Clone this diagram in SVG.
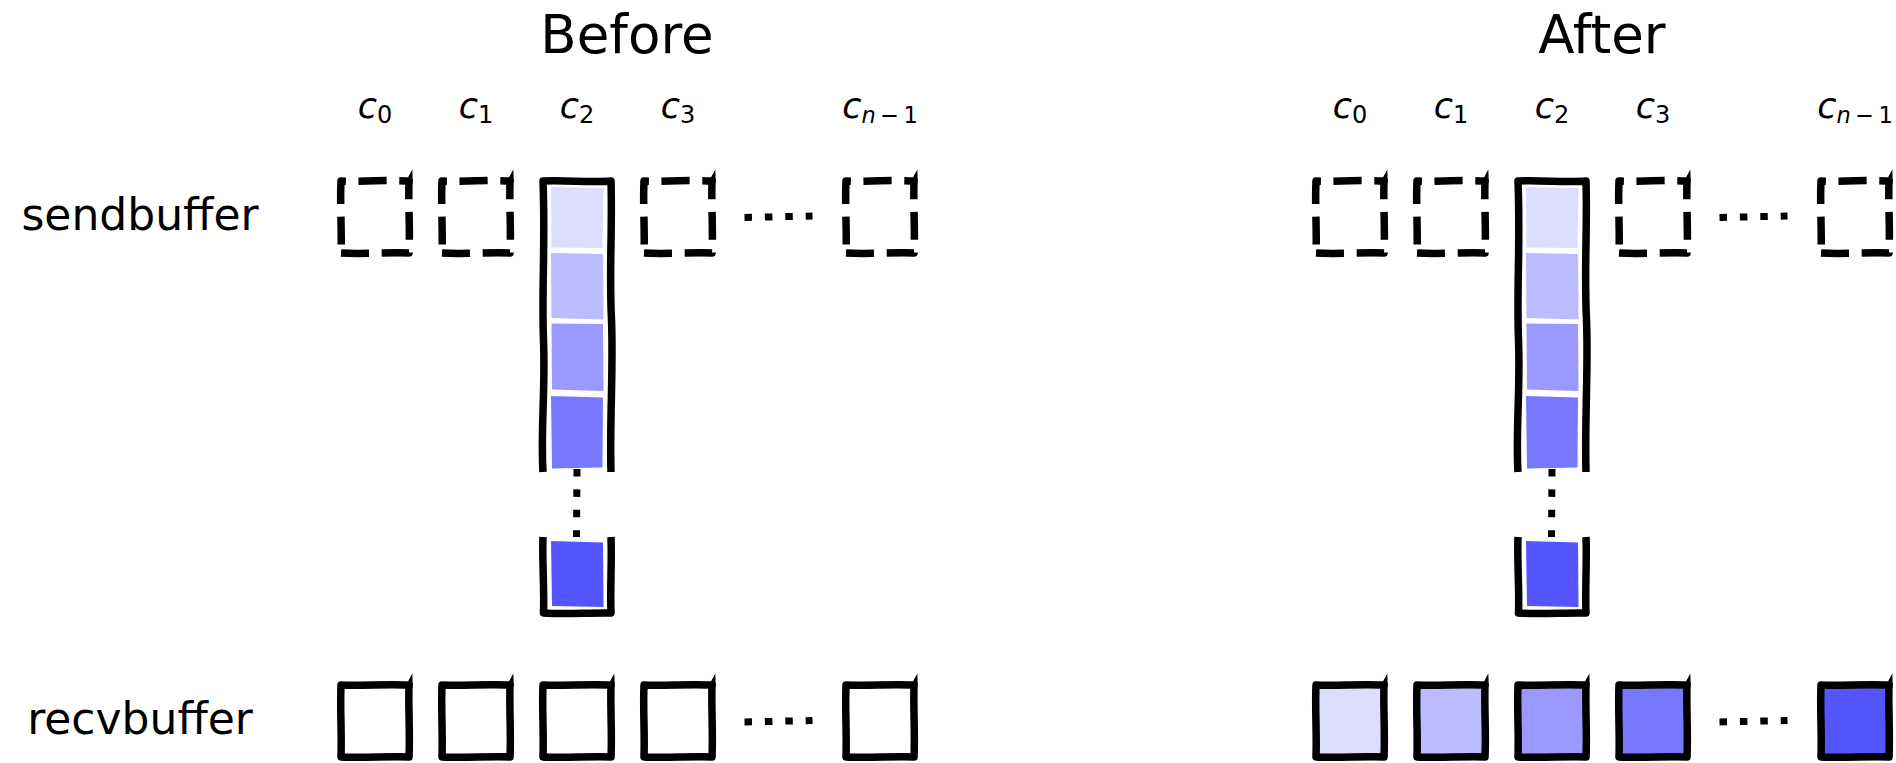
<svg xmlns="http://www.w3.org/2000/svg" xmlns:xlink="http://www.w3.org/1999/xlink" width="1896" height="763" viewBox="0 0 1896 763">
  <style>
    text { font-family: "DejaVu Sans", "Liberation Sans", sans-serif; fill: #000; }
    .title { font-size: 53px; text-anchor: middle; }
    .row { font-size: 44px; text-anchor: middle; }
    .lbl { font-size: 35px; text-anchor: middle; }
    .it { font-style: italic; }
    .sub { font-size: 24px; }
    .sub2 { font-size: 22.5px; }
    .solid { fill: none; stroke: #000; stroke-width: 7.5; stroke-linejoin: round; stroke-linecap: butt; }
    .dashed { fill: none; stroke: #000; stroke-width: 7.5; stroke-linejoin: round; stroke-linecap: butt; stroke-dasharray: 28 12.6; }
    .dots { fill: none; stroke: #000; stroke-width: 7; stroke-dasharray: 7.5 12.9; }
    .tip { fill: #000; }
    .c1 { fill: #ddddff; }
    .c2 { fill: #bbbbff; }
    .c3 { fill: #9999ff; }
    .c4 { fill: #7777ff; }
    .c5 { fill: #5555ff; }
  </style>
  <defs>
    <!-- hand-drawn square cell, 68 x 72, starting at its lower-left corner -->
    <path id="cell" d="M0,72 C22,73.2 46,71.2 68,72 C69.2,48 67.2,24 68,0 C46,-1.3 22,0.9 0,0 C-1.1,24 0.9,48 0,72 Z"/>
    <!-- small overshoot at the upper-right corner of each sketched cell -->
    <path id="tip" d="M64.3,1.5 L71.8,1.5 L71.3,-11.5 Z"/>
  </defs>

  <rect x="0" y="0" width="1896" height="763" fill="#fff"/>

  <!-- ===================== Before ===================== -->
  <g id="panel-before">
    <text id="title-before" class="title" x="627" y="53">Before</text>

    <g id="rank-labels-before">
      <text class="lbl" x="375" y="118"><tspan class="it">c</tspan><tspan class="sub" dy="5">0</tspan></text>
      <text class="lbl" x="476" y="118"><tspan class="it">c</tspan><tspan class="sub" dy="5">1</tspan></text>
      <text class="lbl" x="577" y="118"><tspan class="it">c</tspan><tspan class="sub" dy="5">2</tspan></text>
      <text class="lbl" x="678" y="118"><tspan class="it">c</tspan><tspan class="sub" dy="5">3</tspan></text>
      <text class="lbl" x="880" y="118"><tspan class="it">c</tspan><tspan class="sub2 it" dy="5">n</tspan><tspan class="sub2" dx="4.5">−</tspan><tspan class="sub2" dx="4.5">1</tspan></text>
    </g>

    <text id="label-sendbuffer" class="row" x="140" y="230">sendbuffer</text>
    <text id="label-recvbuffer" class="row" x="140" y="734">recvbuffer</text>

    <!-- send buffers of the other ranks (empty, dashed) -->
    <g id="send-before-c0"><use xlink:href="#cell" class="dashed" transform="translate(341,181)"/><use xlink:href="#tip" class="tip" transform="translate(341,181)"/></g>
    <g id="send-before-c1"><use xlink:href="#cell" class="dashed" transform="translate(442,181)"/><use xlink:href="#tip" class="tip" transform="translate(442,181)"/></g>
    <g id="send-before-c3"><use xlink:href="#cell" class="dashed" transform="translate(644,181)"/><use xlink:href="#tip" class="tip" transform="translate(644,181)"/></g>
    <g id="send-before-cn1"><use xlink:href="#cell" class="dashed" transform="translate(846,181)"/><use xlink:href="#tip" class="tip" transform="translate(846,181)"/></g>
    <path id="send-before-ellipsis" class="dots" d="M744.5,217.5 L812.5,216"/>

    <!-- root send buffer: a column of n blocks -->
    <g id="send-before-c2">
      <path class="c1" d="M551,187 L603.5,188 L602.5,248 L551.5,247.5 Z"/>
      <path class="c2" d="M551,253 L603,254 L603.5,319.5 L551.5,318 Z"/>
      <path class="c3" d="M551.5,323.5 L603,324 L603.5,391 L552,389.5 Z"/>
      <path class="c4" d="M551,396 L603,397.5 L602.5,467.5 L552,468.5 Z"/>
      <path class="c5" d="M551,541 L603,542.5 L603.5,607 L552,606 Z"/>
      <path class="solid" d="M543,472 C540.5,430 545.5,390 543.5,340 C541.5,290 545.5,245 543,181 C566,180 589,182.5 611,181 C612.5,230 609,270 611.5,320 C613.5,370 609.5,420 611,472"/>
      <path class="solid" d="M543,537 C542,560 544.5,590 543.5,613 C566,614.5 589,612.5 611,613 C610,590 612,560 611,537"/>
      <path class="dots" d="M577,469 L576.5,537"/>
    </g>

    <!-- receive buffers (empty) -->
    <g id="recv-before-c0"><use xlink:href="#cell" class="solid" transform="translate(341,685)"/><use xlink:href="#tip" class="tip" transform="translate(341,685)"/></g>
    <g id="recv-before-c1"><use xlink:href="#cell" class="solid" transform="translate(442,685)"/><use xlink:href="#tip" class="tip" transform="translate(442,685)"/></g>
    <g id="recv-before-c2"><use xlink:href="#cell" class="solid" transform="translate(543,685)"/><use xlink:href="#tip" class="tip" transform="translate(543,685)"/></g>
    <g id="recv-before-c3"><use xlink:href="#cell" class="solid" transform="translate(644,685)"/><use xlink:href="#tip" class="tip" transform="translate(644,685)"/></g>
    <g id="recv-before-cn1"><use xlink:href="#cell" class="solid" transform="translate(846,685)"/><use xlink:href="#tip" class="tip" transform="translate(846,685)"/></g>
    <path id="recv-before-ellipsis" class="dots" d="M744.5,722 L812.5,720.5"/>
  </g>

  <!-- ===================== After ===================== -->
  <g id="panel-after" transform="translate(975,0)">
    <text id="title-after" class="title" x="627" y="53">After</text>

    <g id="rank-labels-after">
      <text class="lbl" x="375" y="118"><tspan class="it">c</tspan><tspan class="sub" dy="5">0</tspan></text>
      <text class="lbl" x="476" y="118"><tspan class="it">c</tspan><tspan class="sub" dy="5">1</tspan></text>
      <text class="lbl" x="577" y="118"><tspan class="it">c</tspan><tspan class="sub" dy="5">2</tspan></text>
      <text class="lbl" x="678" y="118"><tspan class="it">c</tspan><tspan class="sub" dy="5">3</tspan></text>
      <text class="lbl" x="880" y="118"><tspan class="it">c</tspan><tspan class="sub2 it" dy="5">n</tspan><tspan class="sub2" dx="4.5">−</tspan><tspan class="sub2" dx="4.5">1</tspan></text>
    </g>

    <g id="send-after-c0"><use xlink:href="#cell" class="dashed" transform="translate(341,181)"/><use xlink:href="#tip" class="tip" transform="translate(341,181)"/></g>
    <g id="send-after-c1"><use xlink:href="#cell" class="dashed" transform="translate(442,181)"/><use xlink:href="#tip" class="tip" transform="translate(442,181)"/></g>
    <g id="send-after-c3"><use xlink:href="#cell" class="dashed" transform="translate(644,181)"/><use xlink:href="#tip" class="tip" transform="translate(644,181)"/></g>
    <g id="send-after-cn1"><use xlink:href="#cell" class="dashed" transform="translate(846,181)"/><use xlink:href="#tip" class="tip" transform="translate(846,181)"/></g>
    <path id="send-after-ellipsis" class="dots" d="M744.5,217.5 L812.5,216"/>

    <g id="send-after-c2">
      <path class="c1" d="M551,187 L603.5,188 L602.5,248 L551.5,247.5 Z"/>
      <path class="c2" d="M551,253 L603,254 L603.5,319.5 L551.5,318 Z"/>
      <path class="c3" d="M551.5,323.5 L603,324 L603.5,391 L552,389.5 Z"/>
      <path class="c4" d="M551,396 L603,397.5 L602.5,467.5 L552,468.5 Z"/>
      <path class="c5" d="M551,541 L603,542.5 L603.5,607 L552,606 Z"/>
      <path class="solid" d="M543,472 C540.5,430 545.5,390 543.5,340 C541.5,290 545.5,245 543,181 C566,180 589,182.5 611,181 C612.5,230 609,270 611.5,320 C613.5,370 609.5,420 611,472"/>
      <path class="solid" d="M543,537 C542,560 544.5,590 543.5,613 C566,614.5 589,612.5 611,613 C610,590 612,560 611,537"/>
      <path class="dots" d="M577,469 L576.5,537"/>
    </g>

    <!-- receive buffers, each holding its block -->
    <g id="recv-after-c0"><use xlink:href="#cell" class="solid c1" transform="translate(341,685)"/><use xlink:href="#tip" class="tip" transform="translate(341,685)"/></g>
    <g id="recv-after-c1"><use xlink:href="#cell" class="solid c2" transform="translate(442,685)"/><use xlink:href="#tip" class="tip" transform="translate(442,685)"/></g>
    <g id="recv-after-c2"><use xlink:href="#cell" class="solid c3" transform="translate(543,685)"/><use xlink:href="#tip" class="tip" transform="translate(543,685)"/></g>
    <g id="recv-after-c3"><use xlink:href="#cell" class="solid c4" transform="translate(644,685)"/><use xlink:href="#tip" class="tip" transform="translate(644,685)"/></g>
    <g id="recv-after-cn1"><use xlink:href="#cell" class="solid c5" transform="translate(846,685)"/><use xlink:href="#tip" class="tip" transform="translate(846,685)"/></g>
    <path id="recv-after-ellipsis" class="dots" d="M744.5,722 L812.5,720.5"/>
  </g>
</svg>
